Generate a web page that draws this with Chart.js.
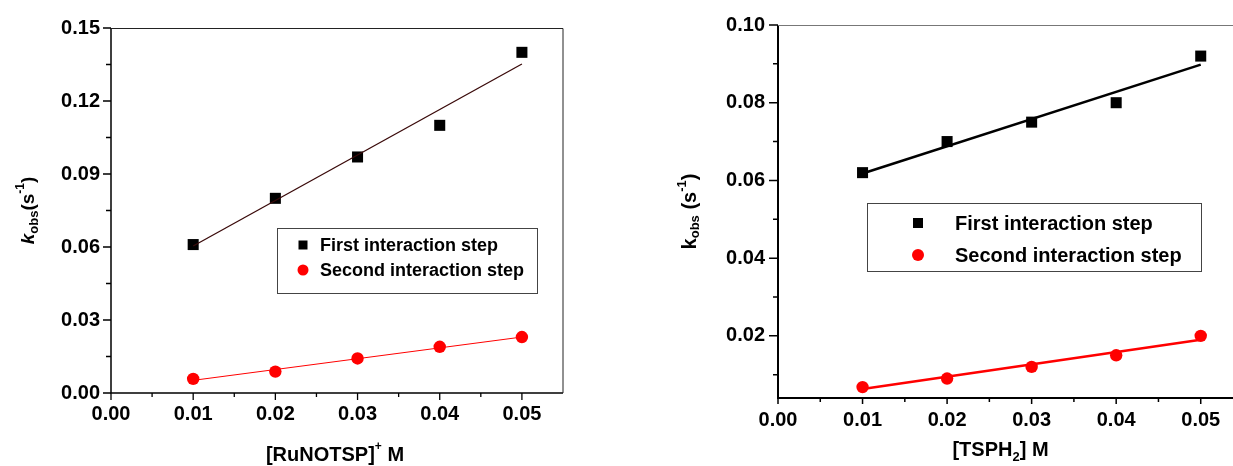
<!DOCTYPE html>
<html>
<head>
<meta charset="utf-8">
<script src="https://cdn.jsdelivr.net/npm/chart.js@4.4.1/dist/chart.umd.min.js"></script>
<style>
  html, body { margin: 0; padding: 0; background: #fff; overflow: hidden; }
  #wrap { position: relative; width: 1233px; height: 466px; overflow: hidden; }
  #leftChart { position: absolute; left: 0; top: 0; }
  #rightChart { position: absolute; left: 620px; top: 0; }
</style>
</head>
<body>
<div id="wrap">
  <canvas id="leftChart" width="610" height="466"></canvas>
  <canvas id="rightChart" width="660" height="466"></canvas>
</div>
<script>
const concentrations = [0.01, 0.02, 0.03, 0.04, 0.05];
const fitRange = [0.01, 0.05];

// [RuNOTSP]+ panel
const ruFirstStep = [0.061, 0.080, 0.097, 0.110, 0.140];
const ruSecondStep = [0.0058, 0.0088, 0.0142, 0.0190, 0.0230];
const ruFirstFit = [0.0604, 0.1352];
const ruSecondFit = [0.0052, 0.0230];
const ruXTicks = [0, 0.01, 0.02, 0.03, 0.04, 0.05];
const ruXMinor = [0.005, 0.015, 0.025, 0.035, 0.045];
const ruYTicks = [0, 0.03, 0.06, 0.09, 0.12, 0.15];
const ruYMinor = [0.015, 0.045, 0.075, 0.105, 0.135];

// [TSPH2] panel
const tsFirstStep = [0.062, 0.070, 0.075, 0.080, 0.092];
const tsSecondStep = [0.0068, 0.0090, 0.0120, 0.0150, 0.0200];
const tsFirstFit = [0.0618, 0.0898];
const tsSecondFit = [0.0063, 0.0190];
const tsXTicks = [0, 0.01, 0.02, 0.03, 0.04, 0.05];
const tsXMinor = [0.005, 0.015, 0.025, 0.035, 0.045];
const tsYTicks = [0.02, 0.04, 0.06, 0.08, 0.10];
const tsYMinor = [0.01, 0.03, 0.05, 0.07, 0.09];

const legendLabels = ["First interaction step", "Second interaction step"];

const FONT = "'Liberation Sans', Arial, sans-serif";
Chart.defaults.font.family = FONT;
Chart.defaults.color = "#000";

const pts = (xs, ys) => xs.map((x, i) => ({ x, y: ys[i] }));

// draws a run of text pieces (sub/superscripts) centred on cx, cy
function drawRich(ctx, parts, cx, cy, rotate) {
    ctx.save();
    ctx.translate(cx, cy);
    if (rotate) ctx.rotate(-Math.PI / 2);
    ctx.fillStyle = "#000";
    ctx.textBaseline = "middle";
    let total = 0;
    parts.forEach(p => { ctx.font = p.font; p.w = ctx.measureText(p.text).width; total += p.w; });
    let x = -total / 2;
    parts.forEach(p => {
        ctx.font = p.font;
        ctx.fillText(p.text, x, p.dy || 0);
        x += p.w;
    });
    ctx.restore();
}

const frameAndTicks = {
    id: "frameAndTicks",
    afterDatasetsDraw(chart, args, o) {
        const { ctx, chartArea: a, scales: { x, y } } = chart;
        ctx.save();
        ctx.strokeStyle = "#000";
        ctx.lineWidth = o.axisWidth;
        ctx.beginPath();
        ctx.moveTo(a.left, a.top);
        ctx.lineTo(a.left, a.bottom);
        ctx.lineTo(a.right, a.bottom);
        ctx.stroke();

        ctx.strokeStyle = o.frameColor;
        ctx.lineWidth = 1;
        ctx.beginPath();
        ctx.moveTo(a.left, a.top + 0.5);
        ctx.lineTo(a.right, a.top + 0.5);
        ctx.lineTo(a.right, a.bottom);
        ctx.stroke();

        ctx.strokeStyle = "#000";
        ctx.lineWidth = o.tickWidth;
        ctx.beginPath();
        o.xMajor.forEach(v => { const p = x.getPixelForValue(v); ctx.moveTo(p, a.bottom); ctx.lineTo(p, a.bottom + o.xMajorLen); });
        o.xMinor.forEach(v => { const p = x.getPixelForValue(v); ctx.moveTo(p, a.bottom); ctx.lineTo(p, a.bottom + o.xMinorLen); });
        o.yMajor.forEach(v => { const p = y.getPixelForValue(v); ctx.moveTo(a.left, p); ctx.lineTo(a.left - o.yMajorLen, p); });
        o.yMinor.forEach(v => { const p = y.getPixelForValue(v); ctx.moveTo(a.left, p); ctx.lineTo(a.left - o.yMinorLen, p); });
        ctx.stroke();
        ctx.restore();
    }
};

const titlesAndLegend = {
    id: "titlesAndLegend",
    afterDraw(chart, args, o) {
        const { ctx, chartArea: a } = chart;
        drawRich(ctx, o.xTitle, (a.left + a.right) / 2 + o.xTitleShift, o.xTitleY, false);
        drawRich(ctx, o.yTitle, o.yTitleX, (a.top + a.bottom) / 2, true);

        const L = o.legend;
        ctx.save();
        ctx.strokeStyle = "#444";
        ctx.lineWidth = 1;
        ctx.strokeRect(L.x + 0.5, L.y + 0.5, L.w, L.h);
        const markers = chart.data.datasets.filter(d => !d.showLine);
        markers.forEach((d, i) => {
            const cy = L.y + L.firstRow + i * L.rowGap;
            ctx.fillStyle = d.backgroundColor;
            ctx.beginPath();
            if (d.pointStyle === "rect") {
                ctx.rect(L.markX - L.sq / 2, cy - L.sq / 2, L.sq, L.sq);
            } else {
                ctx.arc(L.markX, cy, L.dot, 0, Math.PI * 2);
            }
            ctx.fill();
            ctx.fillStyle = "#000";
            ctx.font = "bold " + L.size + "px " + FONT;
            ctx.textBaseline = "middle";
            ctx.fillText(legendLabels[i], L.textX, cy + 1);
        });
        ctx.restore();
    }
};

function axis(min, max, major, pad, size) {
    return {
        type: "linear",
        min, max,
        grid: { display: false, drawTicks: false },
        border: { display: false },
        afterBuildTicks: s => { s.ticks = major.map(v => ({ value: v })); },
        afterFit: s => { if (s.isHorizontal()) s.height = size; else s.width = size; },
        ticks: {
            autoSkip: false,
            maxRotation: 0,
            padding: pad,
            font: { size: 20, weight: "bold" },
            callback: v => v.toFixed(2)
        }
    };
}

function markerSet(ys, style, r) {
    return {
        data: pts(concentrations, ys),
        showLine: false,
        pointStyle: style,
        pointRadius: r,
        backgroundColor: style === "rect" ? "#000" : "#ff0000",
        borderWidth: 0
    };
}

function fitLine(ys, color, width) {
    return {
        data: pts(fitRange, ys),
        showLine: true,
        pointRadius: 0,
        borderColor: color,
        borderWidth: width,
        fill: false
    };
}

const bold = s => "bold " + s + "px " + FONT;

new Chart(document.getElementById("leftChart"), {
    type: "scatter",
    data: {
        datasets: [
            fitLine(ruFirstFit, "#3a0a0a", 1.3),
            fitLine(ruSecondFit, "#ff0000", 1),
            markerSet(ruFirstStep, "rect", 7.8),
            markerSet(ruSecondStep, "circle", 6.2)
        ]
    },
    options: {
        responsive: false,
        animation: false,
        layout: { padding: { top: 28, right: 47, left: 0, bottom: 0 } },
        scales: {
            x: axis(0, 0.055, ruXTicks, 9, 73),
            y: axis(0, 0.15, ruYTicks, 11, 111)
        },
        plugins: {
            legend: { display: false },
            tooltip: { enabled: false },
            frameAndTicks: {
                axisWidth: 1.5, tickWidth: 1.3, frameColor: "#222",
                xMajor: ruXTicks, xMinor: ruXMinor, yMajor: ruYTicks, yMinor: ruYMinor,
                xMajorLen: 7, xMinorLen: 4, yMajorLen: 8, yMinorLen: 5
            },
            titlesAndLegend: {
                xTitle: [
                    { text: "[RuNOTSP]", font: bold(20) },
                    { text: "+", font: bold(12), dy: -8 },
                    { text: " M", font: bold(20) }
                ],
                xTitleShift: -2, xTitleY: 455,
                yTitle: [
                    { text: "k", font: "italic " + bold(19) },
                    { text: "obs", font: bold(13), dy: 5 },
                    { text: "(s", font: bold(19) },
                    { text: "-1", font: bold(12), dy: -8 },
                    { text: ")", font: bold(19) }
                ],
                yTitleX: 29,
                legend: { x: 277, y: 228, w: 260, h: 65, firstRow: 17, rowGap: 25, markX: 303, sq: 9, dot: 5.5, textX: 320, size: 18 }
            }
        }
    },
    plugins: [frameAndTicks, titlesAndLegend]
});

new Chart(document.getElementById("rightChart"), {
    type: "scatter",
    data: {
        datasets: [
            fitLine(tsFirstFit, "#000", 2.6),
            fitLine(tsSecondFit, "#ff0000", 2.6),
            markerSet(tsFirstStep, "rect", 7.8),
            markerSet(tsSecondStep, "circle", 6.2)
        ]
    },
    options: {
        responsive: false,
        animation: false,
        layout: { padding: { top: 22, right: 37, left: 0, bottom: 0 } },
        scales: {
            x: axis(0, 0.055, tsXTicks, 10, 68),
            y: axis(0.004, 0.10, tsYTicks, 13, 158)
        },
        plugins: {
            legend: { display: false },
            tooltip: { enabled: false },
            frameAndTicks: {
                axisWidth: 2, tickWidth: 1.5, frameColor: "#777",
                xMajor: tsXTicks, xMinor: tsXMinor, yMajor: tsYTicks, yMinor: tsYMinor,
                xMajorLen: 6, xMinorLen: 4, yMajorLen: 9, yMinorLen: 5
            },
            titlesAndLegend: {
                xTitle: [
                    { text: "[TSPH", font: bold(20) },
                    { text: "2", font: bold(13), dy: 7 },
                    { text: "] M", font: bold(20) }
                ],
                xTitleShift: -10, xTitleY: 450,
                yTitle: [
                    { text: "k", font: bold(20) },
                    { text: "obs", font: bold(13), dy: 5 },
                    { text: " (s", font: bold(20) },
                    { text: "-1", font: bold(13), dy: -8 },
                    { text: ")", font: bold(20) }
                ],
                yTitleX: 70,
                legend: { x: 247, y: 203, w: 334, h: 68, firstRow: 20, rowGap: 32, markX: 298, sq: 10, dot: 6, textX: 335, size: 20 }
            }
        }
    },
    plugins: [frameAndTicks, titlesAndLegend]
});
</script>
</body>
</html>
